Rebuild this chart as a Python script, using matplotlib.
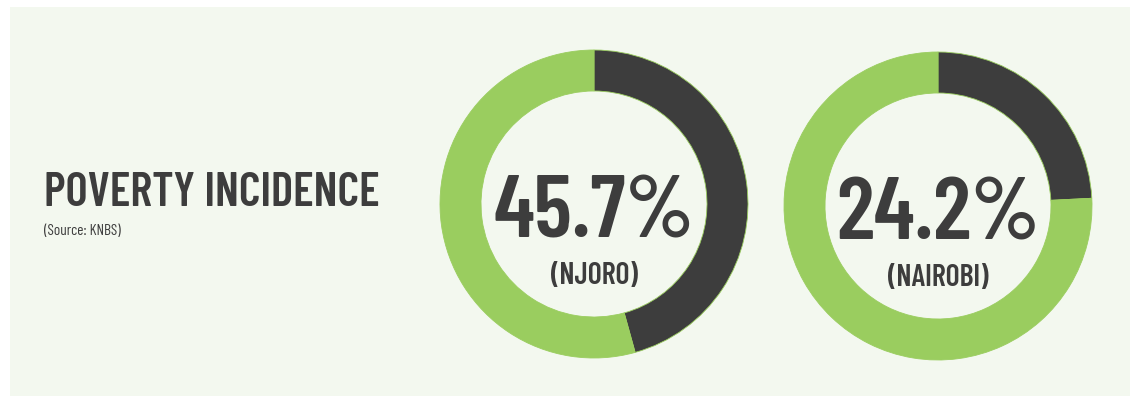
import matplotlib
matplotlib.use('Agg')

import matplotlib.pyplot as plt
from matplotlib.patches import Rectangle

# data
places = ['NJORO', 'NAIROBI']
poverty = [45.7, 24.2]
title = 'POVERTY INCIDENCE'
source = '(Source: KNBS)'

dark = '#3d3d3d'
green = '#9acd5f'
panel = '#f3f8ef'

W, H = 1136, 401
fig = plt.figure(figsize=(W / 100, H / 100), dpi=100)
fig.patch.set_facecolor('white')
ax = fig.add_axes([0, 0, 1, 1])
ax.set_xlim(0, W)
ax.set_ylim(0, H)
ax.set_aspect('equal')
ax.axis('off')

# light panel behind everything
ax.add_patch(Rectangle((10, H - 396), 1120, 389, facecolor=panel, edgecolor='none', zorder=0))

ax.text(44, H - 206, title, fontsize=34, fontweight=600, family='Barlow Condensed',
        color=dark, ha='left', va='baseline')
ax.text(44, H - 235, source, fontsize=11, family='Barlow Condensed', fontweight=400,
        color=dark, ha='left', va='baseline')

centers = [(594, H - 204), (938, H - 206)]
radius = 154
ring = 41

for (cx, cy), name, val in zip(centers, places, poverty):
    ax.pie([val, 100 - val], colors=[dark, green], startangle=90, counterclock=False,
           center=(cx, cy), radius=radius, frame=True,
           wedgeprops=dict(width=ring, edgecolor=green, linewidth=0.6))
    ax.text(cx, cy - 33, '%.1f%%' % val, fontsize=64, fontweight=600,
            family='Barlow Condensed', color=dark, ha='center', va='baseline')
    ax.text(cx, cy - 80, '(%s)' % name, fontsize=21.5, fontweight=600,
            family='Barlow Condensed', color=dark, ha='center', va='baseline')

ax.set_xlim(0, W)
ax.set_ylim(0, H)
ax.axis('off')

fig.savefig('out.png', dpi=100, facecolor=fig.get_facecolor())
